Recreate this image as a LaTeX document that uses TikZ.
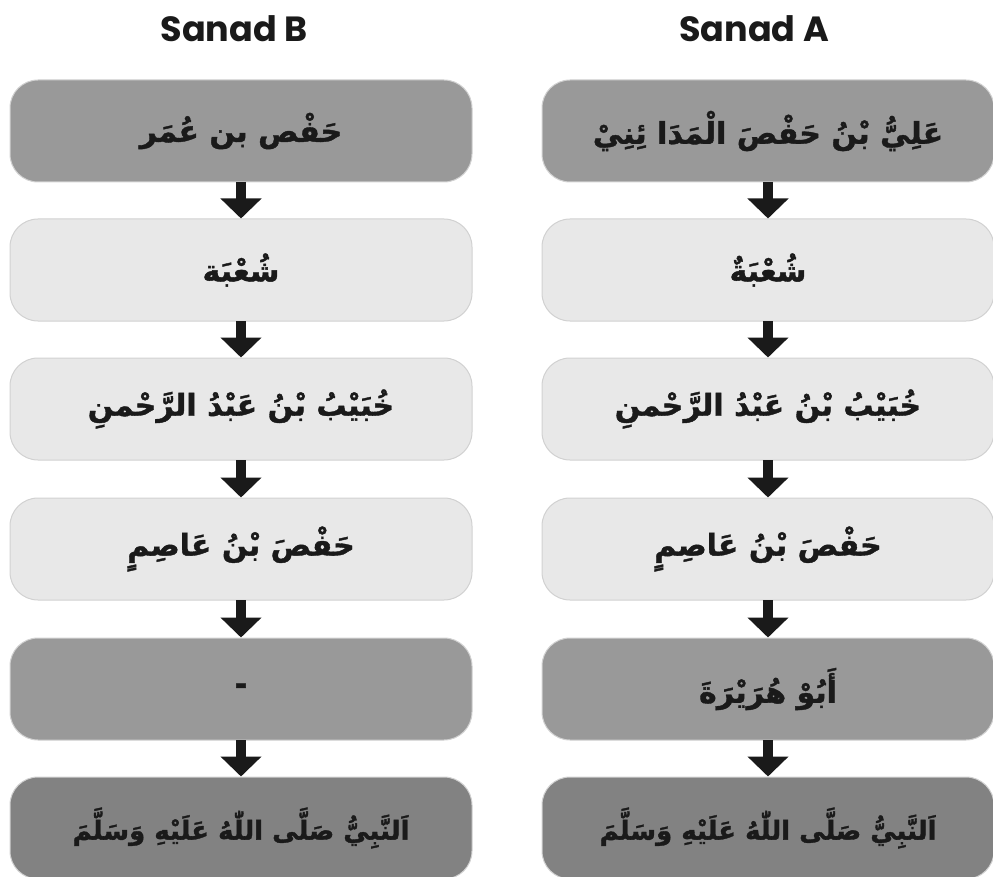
\documentclass[tikz,border=0pt]{standalone}
\usepackage{fontspec}
\usetikzlibrary{arrows.meta}
\TeXXeTstate=1
\newfontfamily\arabicfont[Script=Arabic,BoldFeatures={FakeBold=1.3}]{DejaVu Sans}
\newfontfamily\titlefont{Poppins}
\definecolor{darkbox}{HTML}{999999}
\definecolor{lightbox}{HTML}{E8E8E8}
\definecolor{deepbox}{HTML}{828282}
\definecolor{ink}{HTML}{1A1A1A}
\tikzset{
  box/.style={rounded corners=28pt, draw=black!18, line width=1pt, minimum height=102pt, inner sep=0pt, text=ink, font=\arabicfont\bfseries\fontsize{30}{34}\selectfont},
  smalltext/.style={font=\arabicfont\bfseries\fontsize{26}{30}\selectfont},
  lbox/.style={box, minimum width=462pt},
  rbox/.style={box, minimum width=452pt},
  darkfill/.style={fill=darkbox},
  lightfill/.style={fill=lightbox},
  deepfill/.style={fill=deepbox},
  flow/.style={draw=ink, line width=10pt, -{Triangle[width=40pt,length=20pt]}, shorten <=-0.5pt},
  title/.style={text=ink, font=\titlefont\bfseries\fontsize{35}{40}\selectfont}
}
\newcommand{\ar}[1]{\beginR #1\endR}
\begin{document}
\begin{tikzpicture}[x=1pt,y=-1pt]
\useasboundingbox (0,0) rectangle (993,877);
\node[title] (tB) at (234,29) {Sanad B};
\node[title] (tA) at (754,29) {Sanad A};
% Sanad B
\node[lbox,darkfill]  (b1) at (241,131) {\ar{حَفْص بن عُمَر}};
\node[lbox,lightfill] (b2) at (241,270) {\ar{شُعْبَة}};
\node[lbox,lightfill] (b3) at (241,409) {\ar{خُبَيْبُ بْنُ عَبْدُ الرَّحْمنِ}};
\node[lbox,lightfill] (b4) at (241,549) {\ar{حَفْصَ بْنُ عَاصِمٍ}};
\node[lbox,darkfill]  (b5) at (241,689) {-};
\node[lbox,deepfill,smalltext]  (b6) at (241,828) {\ar{اَلنَّبِيُّ صَلَّى اللّٰهُ عَلَيْهِ وَسَلَّمَ}};
% Sanad A
\node[rbox,darkfill]  (a1) at (768,131) {\ar{عَلِيُّ بْنُ حَفْصَ الْمَدَا ئِنِيْ}};
\node[rbox,lightfill] (a2) at (768,270) {\ar{شُعْبَةٌ}};
\node[rbox,lightfill] (a3) at (768,409) {\ar{خُبَيْبُ بْنُ عَبْدُ الرَّحْمنِ}};
\node[rbox,lightfill] (a4) at (768,549) {\ar{حَفْصَ بْنُ عَاصِمٍ}};
\node[rbox,darkfill]  (a5) at (768,689) {\ar{أَبُوْ هُرَيْرَةَ}};
\node[rbox,deepfill,smalltext]  (a6) at (768,828) {\ar{اَلنَّبِيُّ صَلَّى اللّٰهُ عَلَيْهِ وَسَلَّمَ}};
\foreach \c in {a,b}{
  \draw[flow] (\c1.south) -- (\c2.north);
  \draw[flow] (\c2.south) -- (\c3.north);
  \draw[flow] (\c3.south) -- (\c4.north);
  \draw[flow] (\c4.south) -- (\c5.north);
  \draw[flow] (\c5.south) -- (\c6.north);
}
\end{tikzpicture}
\end{document}
